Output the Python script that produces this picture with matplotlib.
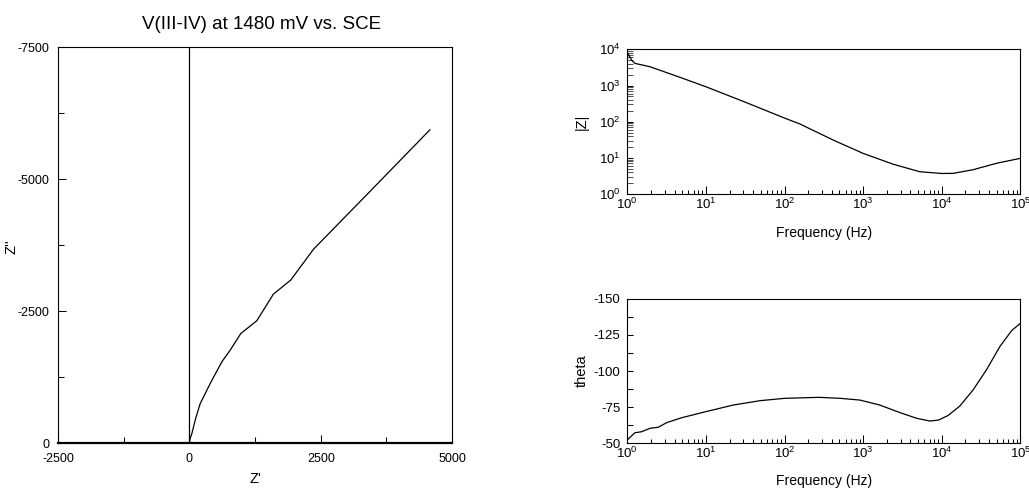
import matplotlib

matplotlib.use("Agg")
import matplotlib.pyplot as plt
from matplotlib.ticker import MultipleLocator, LogLocator, NullFormatter, FixedLocator

plt.rcParams["font.family"] = ["Liberation Sans", "DejaVu Sans"]
plt.rcParams["mathtext.fontset"] = "custom"
plt.rcParams["mathtext.rm"] = "Liberation Sans"
plt.rcParams["mathtext.it"] = "Liberation Sans:italic"
plt.rcParams["mathtext.bf"] = "Liberation Sans:bold"
plt.rcParams["axes.unicode_minus"] = False

TITLE = "V(III-IV) at 1480 mV vs. SCE"

# Nyquist data (Z', Z'')
z_real = [0, 13, 46, 120, 205, 395, 617, 775, 978, 1282, 1598, 1928, 2359, 3372, 4576]
z_imag = [0, -82, -177, -470, -746, -1126, -1537, -1758, -2074, -2315, -2820, -3086, -3668, -4700, -5932]

# Bode magnitude
freq_mag = [1.0, 1.14, 1.25, 1.95, 4.7, 10, 31.6, 100, 158, 417, 1000, 2400, 5250,
            10000, 14000, 25000, 50000, 100000]
z_mag = [8200, 5000, 4100, 3300, 1680, 925, 347, 126, 86, 31, 13.3, 6.7, 4.14,
         3.7, 3.73, 4.7, 7.1, 9.7]

# Bode phase
freq_phase = [1.0, 1.25, 1.52, 1.95, 2.48, 3.17, 4.92, 10, 22.4, 49, 100, 275, 513, 912,
              1620, 2950, 4790, 7080, 9120, 12000, 17000, 25100, 37200, 55000, 77600, 100000]
theta = [-52.3, -57.3, -58, -60.4, -61.1, -64.3, -67.7, -71.9, -76.5, -79.5, -81.1, -81.8,
         -81.1, -79.9, -76.5, -71.2, -67.3, -65.4, -66.1, -69.2, -75.8, -87, -101, -117,
         -128, -133]


def style_axes(ax):
    for side in ("top", "right", "left", "bottom"):
        ax.spines[side].set_linewidth(0.8)
    ax.tick_params(which="both", direction="in", top=False, right=False,
                   width=0.75, colors="black", labelsize=9)


fig = plt.figure(figsize=(10.29, 4.9), dpi=100)

# Nyquist plot
ax1 = fig.add_axes([0.0564, 0.0959, 0.383, 0.808])
style_axes(ax1)
ax1.plot(z_real, z_imag, color="black", lw=0.9)
ax1.axvline(0, color="black", lw=0.9)
ax1.set_xlim(-2500, 5000)
ax1.set_ylim(0, -7500)
ax1.xaxis.set_major_locator(MultipleLocator(2500))
ax1.xaxis.set_minor_locator(MultipleLocator(1250))
ax1.yaxis.set_major_locator(MultipleLocator(2500))
ax1.yaxis.set_minor_locator(MultipleLocator(1250))
ax1.tick_params(which="major", length=6)
ax1.tick_params(which="minor", length=4)
ax1.tick_params(axis="x", pad=7)
ax1.tick_params(axis="y", pad=6)
ax1.spines["bottom"].set_linewidth(1.6)
ax1.set_xlabel("Z'", fontsize=10.5)
ax1.set_ylabel("Z''", fontsize=10.5)
ax1.xaxis.set_label_coords(0.5, -0.072)
ax1.yaxis.set_label_coords(-0.1015, 0.495)
fig.text(261.7 / 1029, 1 - 24.5 / 490, TITLE, ha="center", va="center", fontsize=13.5)

# |Z| vs frequency
ax2 = fig.add_axes([0.6096, 0.604, 0.382, 0.2953])
style_axes(ax2)
ax2.plot(freq_mag, z_mag, color="black", lw=0.9)
ax2.set_xscale("log")
ax2.set_yscale("log")
ax2.set_xlim(1, 1e5)
ax2.set_ylim(1, 1e4)

# theta vs frequency
ax3 = fig.add_axes([0.6096, 0.0953, 0.382, 0.295])
style_axes(ax3)
ax3.plot(freq_phase, theta, color="black", lw=0.9)
ax3.set_xscale("log")
ax3.set_xlim(1, 1e5)
ax3.set_ylim(-50, -150)
ax3.yaxis.set_major_locator(FixedLocator([-50, -75, -100, -125, -150]))
ax3.yaxis.set_minor_locator(MultipleLocator(12.5))
ax3.tick_params(axis="y", which="major", length=4, pad=5, labelsize=9.5)
ax3.tick_params(axis="y", which="minor", length=4)

for ax in (ax2, ax3):
    ax.xaxis.set_major_locator(LogLocator(base=10, numticks=10))
    ax.xaxis.set_minor_locator(LogLocator(base=10, subs=range(2, 10), numticks=20))
    ax.xaxis.set_minor_formatter(NullFormatter())
    ax.tick_params(axis="x", which="major", length=6, pad=2, labelsize=9.5)
    ax.tick_params(axis="x", which="minor", length=3)
    ax.set_xlabel("Frequency (Hz)", fontsize=10)
    ax.yaxis.set_label_coords(-0.097, 0.5)
ax2.xaxis.set_label_coords(0.5, -0.22)
ax3.xaxis.set_label_coords(0.5, -0.215)

ax2.yaxis.set_major_locator(LogLocator(base=10, numticks=10))
ax2.yaxis.set_minor_locator(LogLocator(base=10, subs=range(2, 10), numticks=20))
ax2.yaxis.set_minor_formatter(NullFormatter())
ax2.tick_params(axis="y", which="major", length=4, pad=5, labelsize=9.5)
ax2.tick_params(axis="y", which="minor", length=4, color="#555555")
ax2.set_ylabel("|Z|", fontsize=10.5)
ax3.set_ylabel("theta", fontsize=10.5)

fig.savefig("out.png", dpi=100)
plt.close(fig)
